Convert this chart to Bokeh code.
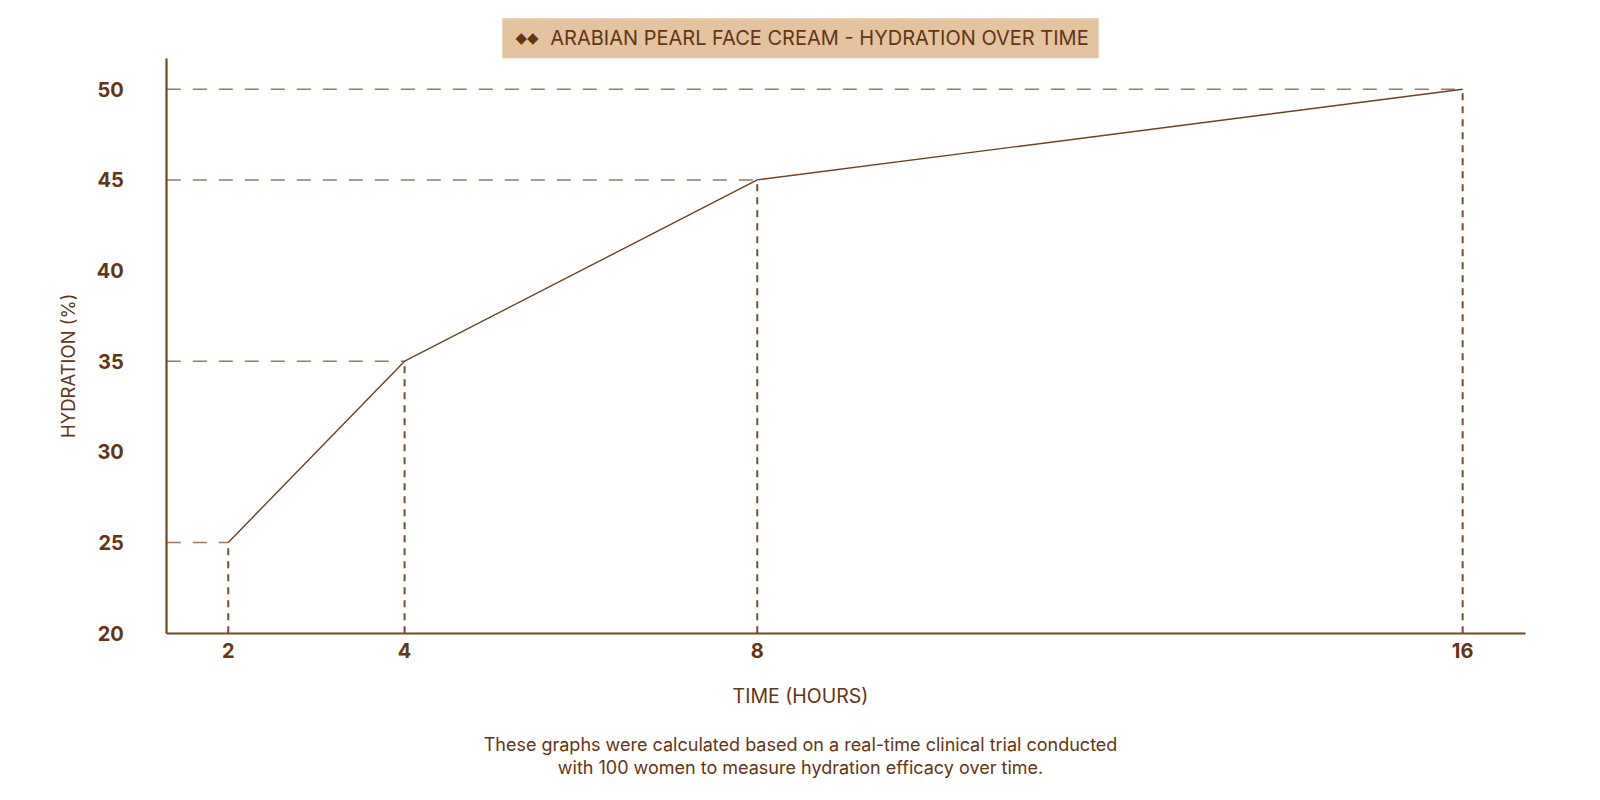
import math
from bokeh.plotting import figure
from bokeh.models import Range1d, FixedTicker, Label
from bokeh.embed import file_html
from bokeh.resources import INLINE

# data
hours = [2, 4, 8, 16]
hydration = [25, 35, 45, 50]
y_ticks = [20, 25, 30, 35, 40, 45, 50]

title_text = "ARABIAN PEARL FACE CREAM - HYDRATION OVER TIME"
x_title = "TIME (HOURS)"
y_title = "HYDRATION (%)"
note_lines = ["These graphs were calculated based on a real-time clinical trial conducted",
              "with 100 women to measure hydration efficacy over time."]

# look
FONT = "Inter"
TEXT = "#633516"
AXIS = "#74481f"
LINE = "#6e4120"
HDASH = "#9c7a5f"
VDASH = "#7a4e2c"
BOX = "#e3c3a0"

W, H = 1584, 784
# the frame fills the whole canvas; the axes sit at fixed places inside it
X_MIN, X_MAX = -0.583, 17.382
Y_MIN, Y_MAX = 11.651, 54.897
# where the axes start and stop (data units)
AX_X0, AX_X1 = 1.303, 16.717
AX_Y0, AX_Y1 = 20, 51.69
# the picture comes out a little smaller than the canvas
SCALE = 0.98


def px_x(px):
    """picture pixel -> data x"""
    return X_MIN + (px / SCALE) / W * (X_MAX - X_MIN)


def px_y(py):
    """picture pixel -> data y"""
    return Y_MAX - (py / SCALE) / H * (Y_MAX - Y_MIN)


p = figure(width=W, height=H, output_backend="svg", toolbar_location=None, title=None,
           x_range=Range1d(X_MIN, X_MAX), y_range=Range1d(Y_MIN, Y_MAX), min_border=0)
p.outline_line_color = None
p.xgrid.visible = False
p.ygrid.visible = False

# guide lines from the axes to every point
p.segment(x0=[AX_X0] * len(hours), y0=hydration, x1=hours, y1=hydration,
          line_color=HDASH, line_width=1.5, line_dash="14 12")
p.segment(x0=hours, y0=[AX_Y0] * len(hours), x1=hours, y1=hydration,
          line_color=VDASH, line_width=2, line_dash="7 6")

# the curve itself
p.line(hours, hydration, line_color=LINE, line_width=1.4)

# axes
for ax in (p.xaxis, p.yaxis):
    ax.axis_line_color = AXIS
    ax.axis_line_width = 2.2
    ax.major_tick_out = 0
    ax.major_tick_in = 0
    ax.minor_tick_out = 0
    ax.minor_tick_in = 0
    ax.major_label_text_font = FONT
    ax.major_label_text_font_size = "20px"
    ax.major_label_text_font_style = "bold"
    ax.major_label_text_color = TEXT

p.xaxis.fixed_location = AX_Y0
p.xaxis.bounds = (AX_X0, AX_X1)
p.yaxis.fixed_location = AX_X0
p.yaxis.bounds = (AX_Y0, AX_Y1)
p.xaxis.ticker = FixedTicker(ticks=hours)
p.yaxis.ticker = FixedTicker(ticks=y_ticks)
p.xaxis.major_label_standoff = 10
p.yaxis.major_label_standoff = 43


def text(x, y, s, size, **kw):
    p.add_layout(Label(x=x, y=y, text=s, text_font=FONT, text_font_size=size,
                       text_color=TEXT, text_align="center", text_baseline="middle", **kw))


# title box with its little diamond mark (the box is centred on the anchor)
text(px_x(784), px_y(37), title_text, "20px", background_fill_color=BOX,
     padding=dict(left=48, right=10, top=8, bottom=8))
p.add_layout(Label(x=px_x(516), y=px_y(37), text="◆◆", text_font="DejaVu Sans",
                   text_font_size="15px", text_color=TEXT,
                   text_align="center", text_baseline="middle"))

# axis titles
text(px_x(784), px_y(682), x_title, "19.5px")
text(px_x(66), px_y(358), y_title, "18.5px", angle=math.pi / 2)

# footnote
for i, line in enumerate(note_lines):
    text(px_x(784), px_y(729 + 23 * i), line, "18px")

open("out.html", "w").write(file_html(p, INLINE))
